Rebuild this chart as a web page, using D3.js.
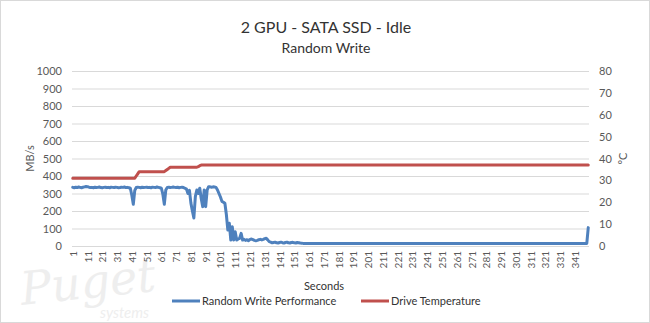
<!DOCTYPE html>
<html>
<head>
<meta charset="utf-8">
<script src="https://cdn.jsdelivr.net/npm/d3@7"></script>
<style>
  body { margin: 0; background: #fff; }
  svg { display: block; font-family: Lato, "Liberation Sans", sans-serif; }
</style>
</head>
<body>
<svg width="650" height="323"></svg>
<script>
// MB/s per second (blue)
var perf = [
  335,333,336,334,337,335,333,336,338,340,
  339,336,334,335,333,336,334,335,337,334,
  333,335,336,334,335,333,336,335,334,336,
  335,333,334,336,335,337,334,335,333,330,
  290,238,318,334,336,335,333,336,334,335,
  336,334,335,333,336,335,334,337,335,333,
  330,296,238,320,335,336,334,335,337,335,
  334,336,333,335,336,334,330,325,300,318,
  245,200,160,282,320,300,330,270,225,320,
  225,320,339,338,336,338,337,335,320,300,
  280,255,250,244,180,91,130,34,110,34,
  82,34,40,44,72,34,38,32,36,30,
  38,40,36,32,30,32,36,38,35,38,
  42,44,35,25,22,18,20,22,18,17,
  20,22,19,17,20,22,18,17,20,21,
  18,17,20,19,17,16,15,15,15,15,
  15,15,15,15,15,15,15,15,15,15,15,15,15,15,15,15,15,15,15,15,
  15,15,15,15,15,15,15,15,15,15,15,15,15,15,15,15,15,15,15,15,
  15,15,15,15,15,15,15,15,15,15,15,15,15,15,15,15,15,15,15,15,
  15,15,15,15,15,15,15,15,15,15,15,15,15,15,15,15,15,15,15,15,
  15,15,15,15,15,15,15,15,15,15,15,15,15,15,15,15,15,15,15,15,
  15,15,15,15,15,15,15,15,15,15,15,15,15,15,15,15,15,15,15,15,
  15,15,15,15,15,15,15,15,15,15,15,15,15,15,15,15,15,15,15,15,
  15,15,15,15,15,15,15,15,15,15,15,15,15,15,15,15,15,15,15,15,
  15,15,15,15,15,15,15,15,15,15,15,15,15,15,15,15,15,15,15,15,
  15,15,15,15,15,15,15,15,15,
  105
];

// drive temperature in C (red)
var temp = [
  31,31,31,31,31,31,31,31,31,31,31,31,31,31,31,31,31,31,31,31,
  31,31,31,31,31,31,31,31,31,31,31,31,31,31,31,31,31,31,31,31,
  31,31,31,
  32,33,
  34,34,34,34,34,34,34,34,34,34,34,34,34,34,34,34,34,34,
  34.5,35,35.5,
  36,36,36,36,36,36,36,36,36,36,36,36,36,36,36,36,36,36,36,
  36.3,36.7,
  37,37,37,37,37,37,37,37,37,37,37,37,37,37,37,37,37,37,37,37,
  37,37,37,37,37,37,37,37,37,37,37,37,37,37,37,37,37,37,37,37,
  37,37,37,37,37,37,37,37,37,37,37,37,37,37,37,37,37,37,37,37,
  37,37,37,37,37,37,37,37,37,37,37,37,37,37,37,37,37,37,37,37,
  37,37,37,37,37,37,37,37,37,37,37,37,37,37,37,37,37,37,37,37,
  37,37,37,37,37,37,37,37,37,37,37,37,37,37,37,37,37,37,37,37,
  37,37,37,37,37,37,37,37,37,37,37,37,37,37,37,37,37,37,37,37,
  37,37,37,37,37,37,37,37,37,37,37,37,37,37,37,37,37,37,37,37,
  37,37,37,37,37,37,37,37,37,37,37,37,37,37,37,37,37,37,37,37,
  37,37,37,37,37,37,37,37,37,37,37,37,37,37,37,37,37,37,37,37,
  37,37,37,37,37,37,37,37,37,37,37,37,37,37,37,37,37,37,37,37,
  37,37,37,37,37,37,37,37,37,37,37,37,37,37,37,37,37,37,37,37,
  37,37,37,37,37,37,37,37,37,37,37,37,37,37,37,37,37,37,37,37,
  37,37,37
];

var seconds = perf.map(function(d,i){ return i+1; });
var xTicks = [1,11,21,31,41,51,61,71,81,91,101,111,121,131,141,151,161,171,181,191,
  201,211,221,231,241,251,261,271,281,291,301,311,321,331,341];
var leftTicks = [0,100,200,300,400,500,600,700,800,900,1000];
var rightTicks = [0,10,20,30,40,50,60,70,80];

var blue = '#4f81bd', red = '#c0504d', axisCol = '#595959';
var L = 72, R = 589, T = 71, B = 246;

var svg = d3.select('svg');

svg.append('rect').attr('x',0.5).attr('y',0.5).attr('width',649).attr('height',322)
  .attr('fill','#fff').attr('stroke','#d9d9d9');

// watermark
var wm = svg.append('g').attr('fill','#eeeeee').attr('font-family','"DejaVu Serif", serif').attr('font-style','italic');
wm.append('text').attr('x',22).attr('y',305).attr('font-size',46).attr('transform','rotate(-6,22,305)').text('Puget');
wm.append('text').attr('x',100).attr('y',318).attr('font-size',15).attr('font-family','Lato, sans-serif').text('systems');

var x = d3.scaleLinear().domain([0.5, seconds.length + 0.5]).range([L, R]);
var yL = d3.scaleLinear().domain([0,1000]).range([B, T]);
var yR = d3.scaleLinear().domain([0,80]).range([B, T]);

// gridlines
svg.append('g').selectAll('line').data(leftTicks).enter().append('line')
  .attr('x1',L).attr('x2',R).attr('y1',function(d){return yL(d)+0.5;}).attr('y2',function(d){return yL(d)+0.5;})
  .attr('stroke','#d9d9d9').attr('stroke-width',1);

// titles
svg.append('text').attr('x',326).attr('y',33).attr('text-anchor','middle').attr('font-size',16).attr('fill','#333').text('2 GPU - SATA SSD - Idle');
svg.append('text').attr('x',326).attr('y',53).attr('text-anchor','middle').attr('font-size',14).attr('fill','#333').text('Random Write');

// axes
var gl = svg.append('g').attr('transform','translate('+L+',0)')
  .call(d3.axisLeft(yL).tickValues(leftTicks).tickFormat(d3.format('d')).tickSize(0).tickPadding(10));
var gr = svg.append('g').attr('transform','translate('+R+',0)')
  .call(d3.axisRight(yR).tickValues(rightTicks).tickFormat(d3.format('d')).tickSize(0).tickPadding(10));
var gx = svg.append('g').attr('transform','translate(0,'+B+')')
  .call(d3.axisBottom(x).tickValues(xTicks).tickFormat(d3.format('d')).tickSize(0));
[gl,gr,gx].forEach(function(g){
  g.select('.domain').remove();
  g.selectAll('text').attr('font-family','Lato, sans-serif').attr('fill',axisCol).attr('font-size',11);
});
gx.selectAll('text').attr('font-size',10).attr('transform','rotate(-90)')
  .attr('text-anchor','end').attr('x',-5).attr('y',0).attr('dy','0.35em');

svg.append('text').attr('transform','translate(34,'+((T+B)/2)+') rotate(-90)').attr('text-anchor','middle')
  .attr('font-size',11).attr('fill',axisCol).text('MB/s');
svg.append('text').attr('transform','translate(627,'+((T+B)/2)+') rotate(-90)').attr('text-anchor','middle')
  .attr('font-size',11).attr('fill',axisCol).text('°C');
svg.append('text').attr('x',324).attr('y',290).attr('text-anchor','middle')
  .attr('font-size',11).attr('fill','#333').text('Seconds');

// series
var lineP = d3.line().x(function(d,i){return x(seconds[i]);}).y(function(d){return yL(d);});
var lineT = d3.line().x(function(d,i){return x(seconds[i]);}).y(function(d){return yR(d);});
svg.append('path').datum(perf).attr('d',lineP).attr('fill','none').attr('stroke',blue)
  .attr('stroke-width',3).attr('stroke-linejoin','round').attr('stroke-linecap','round');
svg.append('path').datum(temp).attr('d',lineT).attr('fill','none').attr('stroke',red)
  .attr('stroke-width',3).attr('stroke-linejoin','round').attr('stroke-linecap','round');

// legend
var legend = [{name:'Random Write Performance', color: blue, x: 172},
              {name:'Drive Temperature', color: red, x: 361}];
var lg = svg.append('g').selectAll('g').data(legend).enter().append('g')
  .attr('transform',function(d){return 'translate('+d.x+',301)';});
lg.append('line').attr('x1',0).attr('x2',28).attr('stroke',function(d){return d.color;}).attr('stroke-width',3);
lg.append('text').attr('x',30).attr('dy','0.35em').attr('font-size',11).attr('fill','#333').text(function(d){return d.name;});
</script>
</body>
</html>
